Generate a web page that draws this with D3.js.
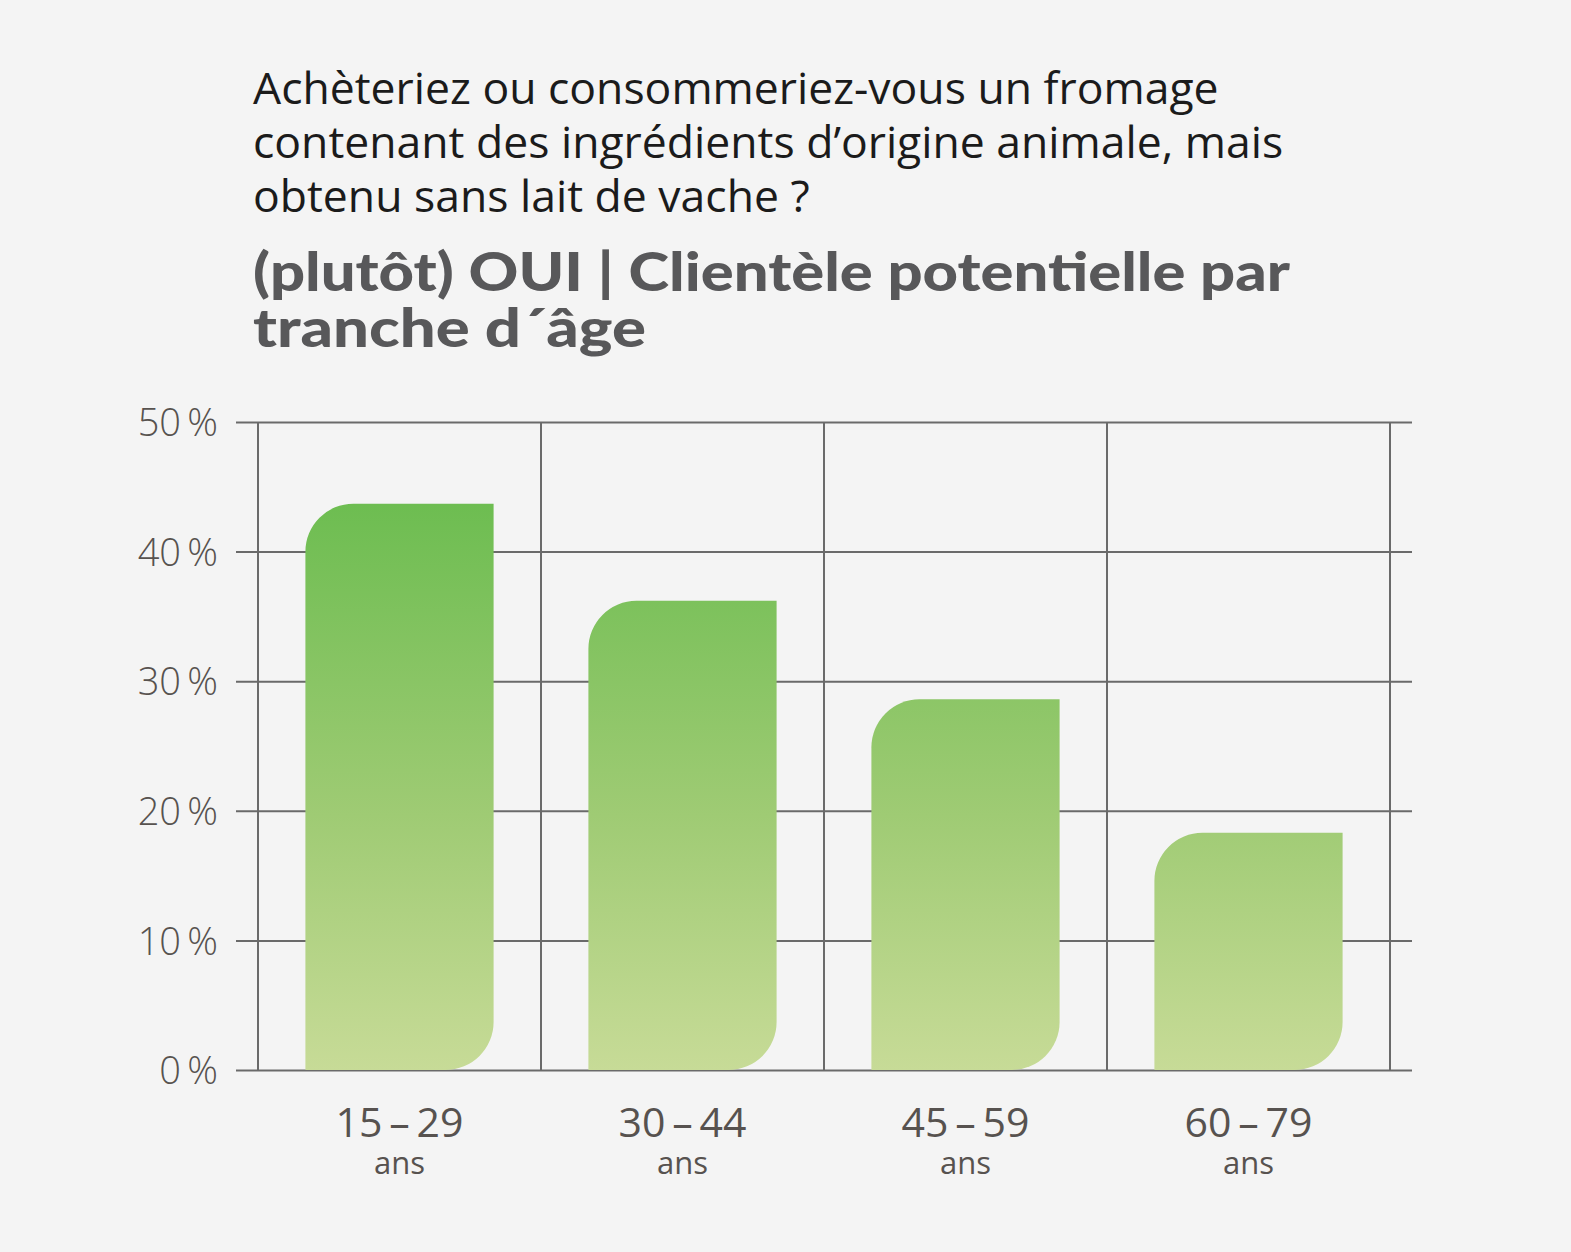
<!DOCTYPE html>
<html>
<head>
<meta charset="utf-8">
<script src="https://cdn.jsdelivr.net/npm/d3@7"></script>
<style>
  html, body { margin: 0; padding: 0; background: #f4f4f4; }
  svg { display: block; }
</style>
</head>
<body>
<div id="chart"></div>
<script>
// data
const ageGroups = ["15\u2009–\u200929", "30\u2009–\u200944", "45\u2009–\u200959", "60\u2009–\u200979"]
const ageUnit = "ans"
const shares = [43.7, 36.2, 28.6, 18.3]
const yTicks = [0, 10, 20, 30, 40, 50]
const titleLines = [
    "Achèteriez ou consommeriez-vous un fromage",
    "contenant des ingrédients d’origine animale, mais",
    "obtenu sans lait de vache ?"
]
const subtitleLines = [
    "(plutôt) OUI | Clientèle potentielle par",
    "tranche d´âge"
]
// rendered widths of the subtitle lines (the original font is wider)
const subtitleWidths = [1037, 393]

const W = 1571, H = 1252
const margin = { top: 422, right: 183, bottom: 182, left: 258 }
const width = 1390 - margin.left
const height = 1070 - margin.top

const svg = d3.select("#chart")
    .append("svg")
    .attr("width", W)
    .attr("height", H)

svg.append("rect")
    .attr("width", W)
    .attr("height", H)
    .attr("fill", "#f4f4f4")

// title
svg.append("g")
    .selectAll("text")
    .data(titleLines)
    .join("text")
    .attr("x", 253)
    .attr("y", (d, i) => 104 + i * 54)
    .attr("font-family", "'Open Sans', sans-serif")
    .attr("font-size", 44.5)
    .attr("fill", "#1b1b1b")
    .text(d => d)

svg.append("g")
    .selectAll("text")
    .data(subtitleLines)
    .join("text")
    .attr("x", 253)
    .attr("y", (d, i) => 291 + i * 56)
    .attr("font-family", "Lato, sans-serif")
    .attr("font-weight", 900)
    .attr("font-size", 53)
    .attr("fill", "#58585a")
    .attr("textLength", (d, i) => subtitleWidths[i])
    .attr("lengthAdjust", "spacingAndGlyphs")
    .text(d => d)

const g = svg.append("g")
    .attr("transform", `translate(${margin.left},${margin.top})`)

const x = d3.scaleBand()
    .domain(ageGroups)
    .range([0, width])
    .paddingInner(0.335)
    .paddingOuter(0.1675)

const y = d3.scaleLinear()
    .domain([0, 50])
    .range([height, 0])

// gradient fixed to the plot area
const defs = svg.append("defs")
const grad = defs.append("linearGradient")
    .attr("id", "barGrad")
    .attr("gradientUnits", "userSpaceOnUse")
    .attr("x1", 0).attr("x2", 0)
    .attr("y1", y(d3.max(shares)))
    .attr("y2", y(0))
grad.append("stop").attr("offset", "0%").attr("stop-color", "#6dbd51")
grad.append("stop").attr("offset", "55%").attr("stop-color", "#9fcb74")
grad.append("stop").attr("offset", "100%").attr("stop-color", "#c7db97")

const lineColor = "#6a6a6a"

// horizontal grid (with ticks sticking out left)
g.append("g")
    .call(d3.axisLeft(y).tickValues(yTicks).tickSize(-(width + 22)).tickSizeOuter(0)
        .tickFormat(d => d + "\u2009%"))
    .call(a => a.select(".domain").remove())
    .call(a => a.selectAll(".tick line")
        .attr("x1", -22)
        .attr("x2", width + 22)
        .attr("stroke", lineColor)
        .attr("stroke-width", 2))
    .call(a => a.selectAll(".tick text")
        .attr("x", -40)
        .attr("dy", "0.36em")
        .attr("font-family", "'Open Sans', sans-serif")
        .attr("font-weight", 300)
        .attr("font-size", 38)
        .attr("fill", "#57524f"))

// vertical grid lines at band edges
const edges = ageGroups.map(d => x(d) - x.step() * x.paddingInner() / 2)
edges.push(width)
g.append("g")
    .selectAll("line")
    .data(edges)
    .join("line")
    .attr("x1", d => d)
    .attr("x2", d => d)
    .attr("y1", y(50))
    .attr("y2", y(0))
    .attr("stroke", lineColor)
    .attr("stroke-width", 2)

// bars: rounded top-left and bottom-right corners
function leafPath(x0, y0, w, h) {
    const r = Math.min(48, w / 2, h / 2)
    return `M${x0},${y0 + h}` +
        `L${x0},${y0 + r}` +
        `A${r},${r} 0 0 1 ${x0 + r},${y0}` +
        `L${x0 + w},${y0}` +
        `L${x0 + w},${y0 + h - r}` +
        `A${r},${r} 0 0 1 ${x0 + w - r},${y0 + h}` +
        `Z`
}

g.append("g")
    .selectAll("path")
    .data(shares)
    .join("path")
    .attr("d", (d, i) => leafPath(x(ageGroups[i]), y(d), x.bandwidth(), y(0) - y(d)))
    .attr("fill", "url(#barGrad)")

// x labels
const xl = g.append("g")
    .selectAll("g")
    .data(ageGroups)
    .join("g")
    .attr("transform", d => `translate(${x(d) + x.bandwidth() / 2},${height})`)
xl.append("text")
    .attr("y", 67)
    .attr("text-anchor", "middle")
    .attr("font-family", "'Open Sans', sans-serif")
    .attr("font-size", 41)
    .attr("fill", "#57524f")
    .text(d => d)
xl.append("text")
    .attr("y", 104)
    .attr("text-anchor", "middle")
    .attr("font-family", "'Open Sans', sans-serif")
    .attr("font-size", 31)
    .attr("fill", "#57524f")
    .text(ageUnit)
</script>
</body>
</html>
